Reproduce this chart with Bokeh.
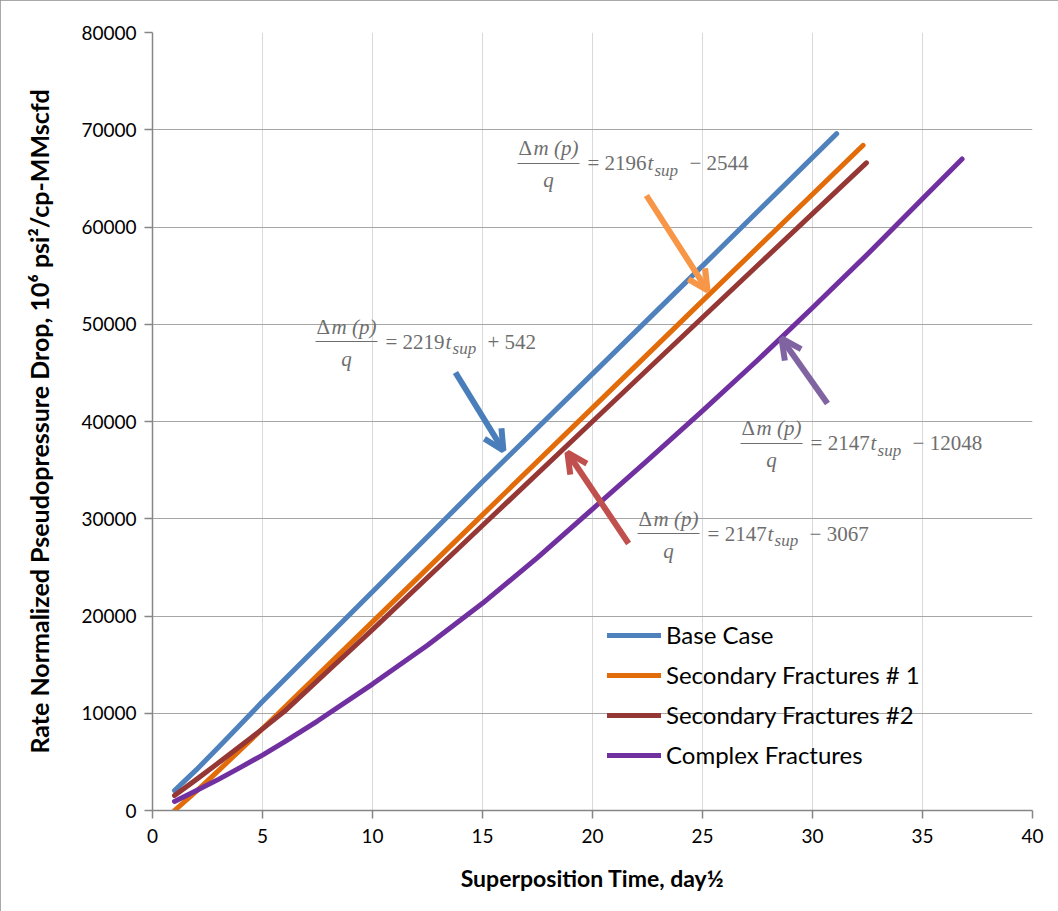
from bokeh.plotting import figure
from bokeh.models import Range1d, Legend, LegendItem, Label, Arrow, OpenHead, SingleIntervalTicker
from bokeh.embed import file_html
from bokeh.resources import INLINE

# ---- data -------------------------------------------------------------
base_t = [1, 2, 3, 5, 10, 15, 20, 25, 31.1]
base_v = [2050, 4200, 6500, 11200, 22500, 33800, 44900, 56000, 69600]

sec1_t = [1, 2, 3, 5, 10, 15, 20, 25, 32.3]
sec1_v = [0, 2000, 4100, 8400, 19400, 30400, 41400, 52400, 68400]

sec2_t = [1, 2, 3, 4.5, 6, 8, 10, 15, 20, 25, 32.45]
sec2_v = [1550, 3200, 4900, 7500, 10200, 14400, 18600, 29300, 40000, 50700, 66600]

cplx_t = [1, 2, 3, 4, 5, 6, 7.5, 10, 12.5, 15, 17.5, 20, 22.5, 25, 27.5, 30, 32.5, 35, 36.8]
cplx_v = [925, 2050, 3200, 4430, 5700, 7050, 9200, 13000, 17000, 21300, 26000, 31000, 36000,
          41100, 46300, 51700, 57200, 62900, 67000]

series_names = ["Base Case", "Secondary Fractures # 1", "Secondary Fractures #2", "Complex Fractures"]
series_colors = ["#4F81BD", "#E36C0A", "#953735", "#7030A0"]

# fitted straight-line equations: slope, intercept
fit_slope = [2219, 2196, 2147, 2147]
fit_icpt = [542, -2544, -3067, -12048]
# anchor of each equation (left end of the fraction bar), data units
eq_x = [7.41, 16.59, 22.05, 26.73]
eq_y = [48226, 66530, 28483, 37738]

# pointer arrows (start -> end), data units
arr_x0 = [13.77, 22.45, 21.64, 30.68]
arr_y0 = [45039, 63239, 27455, 41851]
arr_x1 = [15.95, 25.23, 18.86, 28.59]
arr_y1 = [37018, 53470, 36812, 48535]
arr_colors = ["#4A7EBB", "#F79646", "#C0504D", "#8064A2"]

# ---- figure -----------------------------------------------------------
W, H = 1058, 911
ML, MR, MT, MB = 152, 26, 32, 101
X0, X1, Y0, Y1 = 0, 40, 0, 80000

p = figure(width=W, height=H, x_range=Range1d(X0, X1), y_range=Range1d(Y0, Y1),
           output_backend="svg", toolbar_location=None,
           min_border_left=ML, min_border_right=MR, min_border_top=MT, min_border_bottom=MB)
p.outline_line_color = None
p.background_fill_color = "white"
p.border_fill_color = "white"
p.styles = {"outline": "2px solid #8c8c8c", "outline-offset": "-2px"}

px_per_x = (W - ML - MR) / (X1 - X0)

p.xaxis.ticker = SingleIntervalTicker(interval=5)
p.yaxis.ticker = SingleIntervalTicker(interval=10000)
p.xaxis.minor_tick_line_color = None
p.yaxis.minor_tick_line_color = None
for ax in (p.xaxis, p.yaxis):
    ax.axis_line_color = "#868686"
    ax.axis_line_width = 1.5
    ax.major_tick_line_color = "#868686"
    ax.major_tick_line_width = 1.5
    ax.major_tick_out = 8
    ax.major_tick_in = 0
    ax.major_label_text_font = "Lato"
    ax.major_label_text_font_size = "19px"
    ax.major_label_text_color = "#000000"
    ax.axis_label_text_font = "Lato"
    ax.axis_label_text_font_style = "bold"
    ax.axis_label_text_color = "#000000"
p.xaxis.axis_label_text_font_size = "23px"
p.yaxis.axis_label_text_font_size = "25px"
p.xaxis.major_label_standoff = 10
p.yaxis.major_label_standoff = 8
p.xaxis.axis_label = "Superposition Time, day½"
p.yaxis.axis_label = "Rate Normalized Pseudopressure Drop, 10⁶ psi²/cp-MMscfd"
p.xaxis.axis_label_standoff = 18
p.yaxis.axis_label_standoff = 24

p.xgrid.grid_line_color = "#D9D9D9"
p.ygrid.grid_line_color = "#A6A6A6"
p.xgrid.grid_line_width = 1
p.ygrid.grid_line_width = 1

# ---- curves -----------------------------------------------------------
renderers = []
for t, v, c in zip([base_t, sec1_t, sec2_t, cplx_t], [base_v, sec1_v, sec2_v, cplx_v], series_colors):
    r = p.line(t, v, line_color=c, line_width=5, line_cap="round", line_join="round")
    renderers.append(r)

legend = Legend(items=[LegendItem(label=n, renderers=[r]) for n, r in zip(series_names, renderers)],
                location=(455, 41), glyph_width=54, glyph_height=20, label_height=20,
                spacing=11, padding=0, margin=0, label_standoff=5,
                background_fill_alpha=0, border_line_alpha=0,
                label_text_font="Lato", label_text_font_size="24px", label_text_color="#000000")
p.add_layout(legend)

# ---- pointer arrows ---------------------------------------------------
for xs, ys, xe, ye, c in zip(arr_x0, arr_y0, arr_x1, arr_y1, arr_colors):
    p.add_layout(Arrow(x_start=xs, y_start=ys, x_end=xe, y_end=ye,
                       line_color=c, line_width=6,
                       end=OpenHead(size=20, line_color=c, line_width=6)))

# ---- fitted-line equations -------------------------------------------
EQ_COLOR = "#6e6e6e"
EQ_FONT = "Liberation Serif"
BAR_PX = 62


def eq_text(x, y, text, dx, dy, italic=False, size="21px", align="left", baseline="middle"):
    p.add_layout(Label(x=x, y=y, x_offset=dx, y_offset=dy, text=text,
                       text_font=EQ_FONT, text_font_size=size,
                       text_font_style="italic" if italic else "normal",
                       text_color=EQ_COLOR, text_align=align, text_baseline=baseline))


for x, y, k, b in zip(eq_x, eq_y, fit_slope, fit_icpt):
    p.segment(x0=[x], y0=[y], x1=[x + BAR_PX / px_per_x], y1=[y], line_color=EQ_COLOR, line_width=1.2)
    eq_text(x, y, "Δ", 1, 3, baseline="bottom")
    eq_text(x, y, "m (p)", 16, 3, italic=True, baseline="bottom")
    eq_text(x, y, "q", BAR_PX / 2, -5, italic=True, align="center", baseline="top")
    eq_text(x, y, f"= {k}", 70, 0)
    eq_text(x, y, "t", 130, 0, italic=True)
    eq_text(x, y, "sup", 137, -7, italic=True, size="17px")
    sign = "+" if b >= 0 else "−"
    eq_text(x, y, f"{sign} {abs(b)}", 172, 0)

open("out.html", "w").write(file_html(p, INLINE))
